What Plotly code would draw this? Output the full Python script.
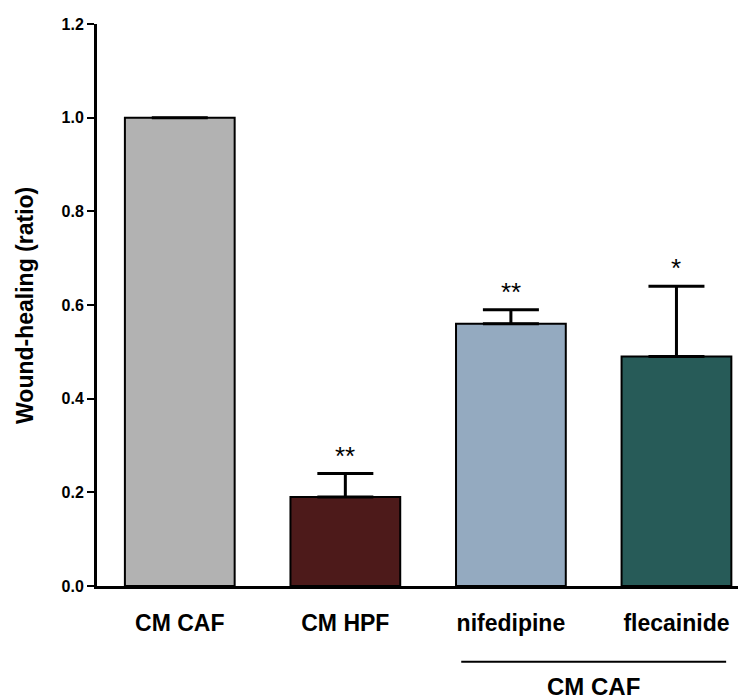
import plotly.graph_objects as go

categories = ["CM CAF", "CM HPF", "nifedipine", "flecainide"]
values = [1.0, 0.19, 0.56, 0.49]
errors_up = [0.0, 0.05, 0.03, 0.15]
significance = ["", "**", "**", "*"]
bar_colors = ["#B2B2B2", "#4D1A1A", "#94AAC0", "#275B58"]
y_ticks = [0.0, 0.2, 0.4, 0.6, 0.8, 1.0, 1.2]
y_title = "Wound-healing (ratio)"
group_label = "CM CAF"
group_span = [1.7, 3.3]

FONT = "Arial, 'Liberation Sans', sans-serif"

xs = list(range(len(categories)))

fig = go.Figure()
fig.add_trace(go.Bar(
    x=xs, y=values,
    width=0.663,
    marker=dict(color=bar_colors, line=dict(color="black", width=2)),
    error_y=dict(type="data", symmetric=False, array=errors_up,
                 arrayminus=[0] * len(values), visible=True,
                 color="black", thickness=3, width=28),
    showlegend=False,
))

for x, v, e, s in zip(xs, values, errors_up, significance):
    if s:
        fig.add_annotation(x=x, y=v + e, text=s, showarrow=False,
                           yanchor="bottom", yshift=1,
                           font=dict(family=FONT, size=26, color="black"))

fig.add_shape(type="line", xref="x", yref="paper",
              x0=group_span[0], x1=group_span[1], y0=-0.135, y1=-0.135,
              line=dict(color="black", width=2))
fig.add_annotation(xref="x", yref="paper", x=sum(group_span) / 2, y=-0.179,
                   text="<b>%s</b>" % group_label, showarrow=False,
                   xanchor="center", yanchor="middle",
                   font=dict(family=FONT, size=24, color="black"))

fig.add_annotation(xref="paper", yref="paper", x=-0.111, y=0.5,
                   text="<b>%s</b>" % y_title, showarrow=False, textangle=-90,
                   xanchor="center", yanchor="middle",
                   font=dict(family=FONT, size=23, color="black"))

fig.update_layout(
    width=738, height=692,
    margin=dict(l=89, r=0, t=16, b=114),
    plot_bgcolor="white", paper_bgcolor="white",
    font=dict(family=FONT, color="black"),
    xaxis=dict(
        range=[-0.5, 3.42],
        tickvals=xs,
        ticktext=["<b>%s</b>" % c for c in categories],
        tickfont=dict(family=FONT, size=23, color="black"),
        showline=True, linecolor="black", linewidth=3,
        ticks="", showgrid=False, zeroline=False,
        ticklabelstandoff=14,
    ),
    yaxis=dict(
        range=[0, 1.2],
        tickvals=y_ticks,
        ticktext=["<b>%.1f</b>" % t for t in y_ticks],
        tickfont=dict(family=FONT, size=16, color="black"),
        showline=True, linecolor="black", linewidth=3,
        ticks="outside", ticklen=7, tickwidth=2, tickcolor="black",
        showgrid=False, zeroline=False,
    ),
)

fig.write_html("out.html")
